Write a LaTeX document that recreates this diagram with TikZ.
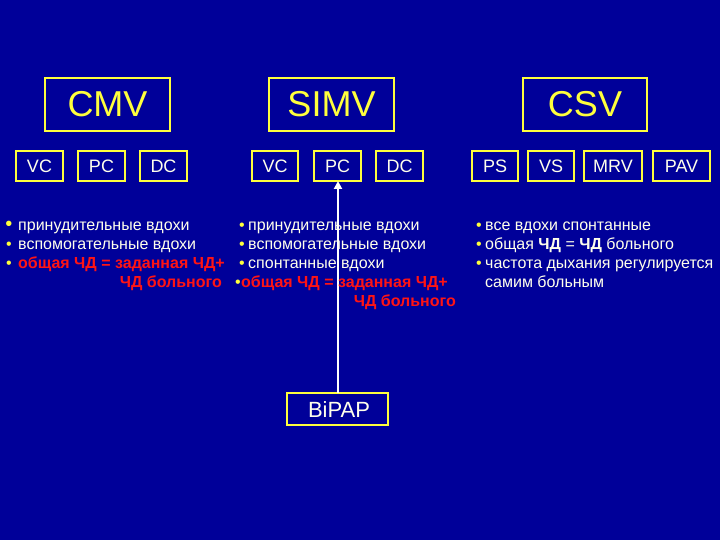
\documentclass[tikz,border=0pt]{standalone}
\usepackage{fontspec}
\setmainfont{Liberation Sans}
\usetikzlibrary{arrows.meta}
\definecolor{bgblue}{RGB}{0,0,153}
\definecolor{boxyel}{RGB}{255,255,60}
\definecolor{txtwhite}{RGB}{255,255,235}
\definecolor{txtred}{RGB}{255,20,20}
\begin{document}
\begin{tikzpicture}[x=1pt,y=-1pt,
  bigbox/.style={draw=boxyel,line width=1.8pt},
  smallbox/.style={draw=boxyel,line width=1.6pt},
  bigtext/.style={text=boxyel,font=\fontsize{36}{40}\selectfont},
  smalltext/.style={text=txtwhite,font=\fontsize{18}{20}\selectfont},
  bul/.style={anchor=base west,inner sep=0pt,text=txtwhite,font=\fontsize{16}{19}\selectfont},
  redl/.style={anchor=base west,inner sep=0pt,text=txtred,font=\fontsize{16}{19}\selectfont\bfseries},
  redr/.style={anchor=base east,inner sep=0pt,text=txtred,font=\fontsize{16}{19}\selectfont\bfseries},
  dot/.style={anchor=base,inner sep=0pt,text=boxyel,font=\fontsize{16}{19}\selectfont},
]
\fill[bgblue] (0,0) rectangle (720,540);
\useasboundingbox (0,0) rectangle (720,540);
% big boxes
\draw[bigbox] (45,78) rectangle (170,131);
\node[bigtext] (cmv) at (107.5,104.5) {CMV};
\draw[bigbox] (269,78) rectangle (394,131);
\node[bigtext] (simv) at (331.5,104.5) {SIMV};
\draw[bigbox] (523,78) rectangle (647,131);
\node[bigtext] (csv) at (585,104.5) {CSV};
% small boxes
\foreach \n/\a/\b/\t in {c1/16/63/VC, c2/78/125/PC, c3/140/187/DC,
  s1/252/298/VC, s2/314/361/PC, s3/376/423/DC,
  p1/472/518/PS, p2/528/574/VS, p3/584/642/MRV, p4/653/710/PAV}{
  \draw[smallbox] (\a,151) rectangle (\b,181);
  \node[smalltext] (\n) at ({(\a+\b)/2},166) {\t};
}
\coordinate (pcbot) at (338,181);
% BiPAP
\draw[smallbox] (287,393) rectangle (388,425);
\node[text=txtwhite,font=\fontsize{22}{24}\selectfont] (bipap) at (339,409.5) {BiPAP};
\coordinate (bitop) at (338,393);
\draw[white,line width=2pt,-{Triangle[width=8pt,length=8pt]}] (bitop) -- (pcbot);
% column 1
\node[dot,font=\fontsize{20}{20}\selectfont] (d11) at (9,230) {•};
\node[bul] (t11) at (18,230) {принудительные вдохи};
\node[dot] (d12) at (9,249) {•};
\node[bul] (t12) at (18,249) {вспомогательные вдохи};
\node[dot] (d13) at (9,268) {•};
\node[redl] (t13) at (18,268) {общая ЧД = заданная ЧД+};
\node[redr] (t14) at (222,287) {ЧД больного};
% column 2
\node[dot] (d21) at (242,230) {•};
\node[bul] (t21) at (248,230) {принудительные вдохи};
\node[dot] (d22) at (242,249) {•};
\node[bul] (t22) at (248,249) {вспомогательные вдохи};
\node[dot] (d23) at (242,268) {•};
\node[bul] (t23) at (248,268) {спонтанные вдохи};
\node[dot] (d24) at (238,287) {•};
\node[redl] (t24) at (241,287) {общая ЧД = заданная ЧД+};
\node[redr] (t25) at (456,306) {ЧД больного};
% column 3
\node[dot] (d31) at (479,230) {•};
\node[bul] (t31) at (485,230) {все вдохи спонтанные};
\node[dot] (d32) at (479,249) {•};
\node[bul] (t32) at (485,249) {общая \textbf{ЧД} = \textbf{ЧД} больного};
\node[dot] (d33) at (479,268) {•};
\node[bul] (t33) at (485,268) {частота дыхания регулируется};
\node[bul] (t34) at (485,287) {самим больным};
\end{tikzpicture}
\end{document}
